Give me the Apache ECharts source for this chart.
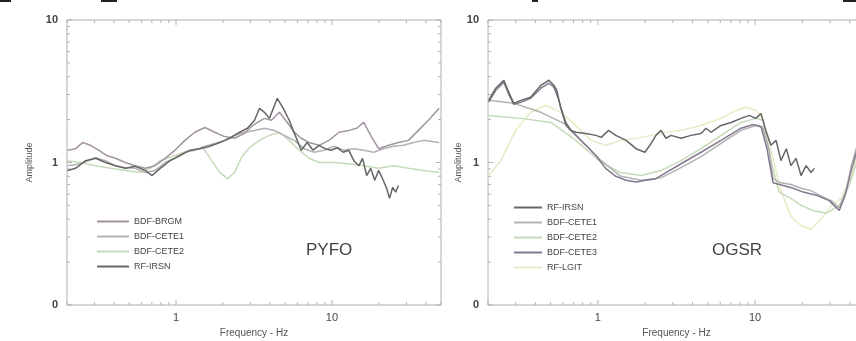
<!DOCTYPE html>
<html>
<head>
<meta charset="utf-8">
<script src="https://cdn.jsdelivr.net/npm/echarts@6/dist/echarts.min.js"></script>
<style>
  html, body { margin: 0; padding: 0; background: #fff; }
  #chart { width: 856px; height: 341px; filter: blur(0.45px); }
</style>
</head>
<body>
<div id="chart"></div>
<script>
// ---- PYFO (left panel) : [frequency Hz, amplitude]
const pyfoIRSN = [[0.202,0.88],[0.227,0.91],[0.263,1.03],[0.305,1.07],[0.353,1.00],[0.409,0.95],[0.473,0.91],[0.548,0.94],[0.635,0.88],[0.703,0.81],[0.791,0.91],[0.916,1.03],[1.06,1.12],[1.23,1.22],[1.42,1.25],[1.65,1.30],[1.91,1.38],[2.21,1.48],[2.56,1.63],[2.87,1.74],[3.19,1.98],[3.43,2.40],[3.69,2.25],[3.97,2.04],[4.46,2.82],[4.87,2.40],[5.32,1.98],[5.81,1.55],[6.35,1.22],[6.93,1.38],[7.57,1.22],[8.26,1.32],[9.02,1.25],[9.86,1.22],[10.8,1.27],[11.8,1.18],[12.8,1.22],[13.8,1.03],[14.9,0.95],[15.7,1.07],[16.7,0.81],[17.7,0.91],[18.8,0.75],[19.9,0.88],[21.1,0.77],[22.4,0.66],[23.4,0.56],[24.5,0.67],[25.6,0.62],[26.7,0.69]];
const pyfoBRGM = [[0.202,1.22],[0.227,1.25],[0.252,1.38],[0.283,1.32],[0.319,1.22],[0.358,1.12],[0.409,1.07],[0.473,1.00],[0.548,0.95],[0.635,0.91],[0.735,0.95],[0.851,1.07],[0.986,1.22],[1.14,1.43],[1.32,1.63],[1.53,1.76],[1.77,1.63],[2.05,1.52],[2.37,1.48],[2.75,1.60],[3.05,1.79],[3.33,1.91],[3.69,2.04],[4.09,1.98],[4.60,2.25],[5.17,1.91],[5.73,1.63],[6.35,1.48],[7.14,1.38],[8.26,1.32],[9.57,1.43],[11.1,1.63],[12.8,1.68],[14.4,1.74],[16.0,1.91],[17.7,1.55],[19.9,1.25],[23.1,1.32],[26.7,1.38],[30.9,1.43],[35.8,1.68],[41.5,1.98],[48.7,2.40]];
const pyfoCETE1 = [[0.202,0.95],[0.245,0.98],[0.305,1.08],[0.353,1.03],[0.409,0.95],[0.473,0.92],[0.548,0.91],[0.635,0.85],[0.735,0.88],[0.851,1.00],[0.986,1.07],[1.14,1.18],[1.32,1.22],[1.53,1.30],[1.77,1.36],[2.05,1.43],[2.37,1.55],[2.75,1.63],[3.19,1.68],[3.69,1.74],[4.27,1.68],[4.94,1.55],[5.73,1.43],[6.63,1.25],[7.68,1.18],[8.89,1.22],[10.3,1.30],[11.9,1.22],[13.8,1.25],[16.0,1.22],[18.5,1.18],[21.4,1.25],[24.8,1.30],[28.8,1.32],[33.3,1.38],[38.5,1.43],[48.7,1.38]];
const pyfoCETE2 = [[0.202,1.03],[0.245,1.00],[0.305,0.95],[0.380,0.91],[0.473,0.88],[0.590,0.85],[0.683,0.91],[0.791,1.03],[0.986,1.12],[1.23,1.22],[1.49,1.27],[1.69,1.03],[1.91,0.85],[2.14,0.77],[2.37,0.85],[2.67,1.12],[2.96,1.27],[3.43,1.43],[3.97,1.55],[4.60,1.63],[5.32,1.43],[6.16,1.22],[7.14,1.07],[8.26,1.00],[10.3,1.00],[12.8,0.98],[16.0,0.95],[19.9,0.91],[24.8,0.95],[30.9,0.91],[38.5,0.88],[48.7,0.85]];

// ---- OGSR (right panel)
const ogsrIRSN = [[0.202,2.73],[0.224,3.32],[0.252,3.78],[0.271,3.11],[0.292,2.60],[0.323,2.73],[0.374,2.87],[0.434,3.48],[0.467,3.66],[0.488,3.78],[0.525,3.48],[0.548,3.21],[0.581,2.40],[0.625,1.91],[0.673,1.68],[0.725,1.63],[0.839,1.60],[0.971,1.55],[1.05,1.50],[1.17,1.68],[1.30,1.55],[1.51,1.43],[1.75,1.25],[1.99,1.18],[2.18,1.36],[2.34,1.55],[2.52,1.68],[2.71,1.48],[2.92,1.55],[3.38,1.48],[3.91,1.55],[4.53,1.60],[4.87,1.74],[5.24,1.63],[6.07,1.82],[7.03,1.91],[8.14,2.04],[9.16,2.14],[10.1,2.04],[10.9,2.21],[11.7,1.68],[12.6,1.32],[13.6,1.43],[14.6,1.03],[15.8,1.25],[16.9,0.95],[18.2,1.07],[19.6,0.81],[21.1,0.95],[22.7,0.85],[23.8,0.91]];
const ogsrCETE1 = [[0.202,2.73],[0.292,2.60],[0.434,2.25],[0.625,1.85],[0.779,1.43],[1.05,1.03],[1.40,0.80],[1.88,0.75],[2.52,0.78],[3.38,0.92],[4.53,1.10],[6.07,1.36],[8.14,1.68],[10.1,1.82],[11.2,1.76],[12.3,1.22],[13.0,0.77],[14.6,0.72],[16.9,0.70],[19.6,0.66],[22.7,0.635],[26.3,0.58],[30.5,0.54],[34.3,0.48],[38.0,0.635],[40.9,0.95],[44.6,1.32],[50,1.9]];
const ogsrCETE2 = [[0.202,2.14],[0.323,2.04],[0.502,1.91],[0.725,1.43],[1.05,1.00],[1.40,0.85],[1.88,0.81],[2.52,0.88],[3.38,1.03],[4.53,1.25],[6.07,1.55],[8.14,1.91],[10.1,2.04],[11.2,1.98],[12.6,1.03],[14.2,0.62],[16.9,0.56],[19.6,0.50],[23.4,0.46],[28.3,0.44],[34.3,0.50],[39.7,0.69],[44.6,1.03],[50,1.5]];
const ogsrCETE3 = [[0.202,2.65],[0.224,3.21],[0.252,3.66],[0.271,3.01],[0.292,2.56],[0.323,2.65],[0.374,2.82],[0.434,3.32],[0.488,3.60],[0.525,3.38],[0.565,2.73],[0.625,1.82],[0.725,1.55],[0.839,1.32],[0.971,1.12],[1.12,0.91],[1.30,0.80],[1.51,0.75],[1.75,0.73],[2.02,0.75],[2.34,0.77],[2.71,0.85],[3.38,0.98],[4.53,1.18],[6.07,1.43],[8.14,1.74],[9.71,1.85],[10.9,1.79],[11.9,1.25],[13.0,0.72],[15.1,0.69],[17.5,0.66],[20.2,0.62],[24.5,0.59],[29.6,0.54],[34.3,0.46],[37.4,0.59],[40.9,0.88],[44.6,1.22],[50,1.8]];
const ogsrLGIT = [[0.202,0.81],[0.241,1.03],[0.300,1.68],[0.374,2.25],[0.467,2.52],[0.581,2.25],[0.725,1.82],[0.903,1.43],[1.12,1.32],[1.40,1.43],[1.75,1.48],[2.18,1.55],[2.71,1.63],[3.38,1.68],[4.53,1.82],[6.07,2.04],[7.57,2.32],[8.76,2.44],[10.1,2.32],[11.2,2.04],[12.6,1.22],[14.6,0.635],[16.9,0.42],[19.6,0.36],[22.7,0.34],[26.3,0.40],[30.5,0.50],[35.3,0.56],[40.9,0.81],[44.6,1.12],[50,1.6]];

const leftNames = ['BDF-BRGM', 'BDF-CETE1', 'BDF-CETE2', 'RF-IRSN'];
const rightNames = ['RF-IRSN', 'BDF-CETE1', 'BDF-CETE2', 'BDF-CETE3', 'RF-LGIT'];

// axis ranges and tick marks
const freqMin = 0.2, freqMax = 50;
const ampMin = 0.1, ampMax = 10;
const freqTicks = [0.2,0.3,0.4,0.5,0.6,0.7,0.8,0.9,1,2,3,4,5,6,7,8,9,10,20,30,40,50];
const ampTicks = [0.1,0.2,0.3,0.4,0.5,0.6,0.7,0.8,0.9,1,2,3,4,5,6,7,8,9,10];

const colors = {
  'RF-IRSN': '#666666',
  'BDF-BRGM': '#a394a3',
  'BDF-CETE1': '#b2b2b2',
  'BDF-CETE2': '#c4dabb',
  'BDF-CETE3': '#85788e',
  'RF-LGIT': '#e6ecc4'
};
const axisColor = '#b0b0b0';
const font = 'Liberation Sans';

const isDecade = v => Math.abs(Math.log10(v) - Math.round(Math.log10(v))) < 1e-6;

function xTickItem(params, api) {
  const v = api.value(0);
  const len = isDecade(v) ? 5 : 3;
  const b = api.coord([v, ampMin]);
  const t = api.coord([v, ampMax]);
  return { type: 'group', children: [
    { type: 'line', shape: { x1: b[0], y1: b[1], x2: b[0], y2: b[1] - len }, style: { stroke: axisColor, lineWidth: 1 } },
    { type: 'line', shape: { x1: t[0], y1: t[1], x2: t[0], y2: t[1] + len }, style: { stroke: axisColor, lineWidth: 1 } }
  ]};
}
function yTickItem(params, api) {
  const v = api.value(1);
  const len = isDecade(v) ? 5 : 3;
  const l = api.coord([freqMin, v]);
  const r = api.coord([freqMax, v]);
  return { type: 'group', children: [
    { type: 'line', shape: { x1: l[0], y1: l[1], x2: l[0] + len, y2: l[1] }, style: { stroke: axisColor, lineWidth: 1 } },
    { type: 'line', shape: { x1: r[0], y1: r[1], x2: r[0] - len, y2: r[1] }, style: { stroke: axisColor, lineWidth: 1 } }
  ]};
}

function xAxisFor(i) {
  return {
    type: 'log', gridIndex: i, min: freqMin, max: freqMax, logBase: 10,
    name: 'Frequency - Hz', nameLocation: 'middle', nameGap: 22,
    nameTextStyle: { fontSize: 10, color: '#555', fontFamily: font },
    axisLine: { show: false }, axisTick: { show: false }, splitLine: { show: false },
    axisLabel: { margin: 7, fontSize: 11, color: '#444', fontFamily: font,
      formatter: v => isDecade(v) ? String(Math.round(v)) : '' }
  };
}
function yAxisFor(i) {
  return {
    type: 'log', gridIndex: i, min: ampMin, max: ampMax, logBase: 10,
    name: 'Amplitude', nameLocation: 'middle', nameRotate: 90, nameGap: i === 0 ? 33 : 21,
    nameTextStyle: { fontSize: 9, color: '#555', fontFamily: font },
    axisLine: { show: false }, axisTick: { show: false }, splitLine: { show: false },
    axisLabel: { margin: 9, fontSize: 11, fontWeight: 'bold', color: '#444', fontFamily: font,
      formatter: v => isDecade(v) ? (v < 1 ? '0' : String(Math.round(v))) : '' }
  };
}

function lineSeries(name, data, i, z) {
  return {
    type: 'line', name, data, xAxisIndex: i, yAxisIndex: i,
    showSymbol: false, symbol: 'none', smooth: false, z: z, silent: true,
    color: colors[name], lineStyle: { width: 1.5, color: colors[name] }
  };
}
function tickSeries(i) {
  return [
    { type: 'custom', xAxisIndex: i, yAxisIndex: i, silent: true, z: 1,
      data: freqTicks.map(v => [v, 1]), encode: { x: 0, y: 1 }, renderItem: xTickItem },
    { type: 'custom', xAxisIndex: i, yAxisIndex: i, silent: true, z: 1,
      data: ampTicks.map(v => [1, v]), encode: { x: 0, y: 1 }, renderItem: yTickItem }
  ];
}

const legendBase = {
  orient: 'vertical', icon: 'rect', itemHeight: 2, itemGap: 4, selectedMode: false,
  textStyle: { fontSize: 9, lineHeight: 11, color: '#444', fontFamily: font }
};

const chart = echarts.init(document.getElementById('chart'), null, { renderer: 'canvas' });
chart.setOption({
  animation: false,
  backgroundColor: '#fff',
  grid: [
    { left: 67, top: 20, width: 374, height: 285, show: true, borderColor: axisColor, borderWidth: 1, containLabel: false, outerBoundsMode: 'none' },
    { left: 488, top: 20, width: 377, height: 285, show: true, borderColor: axisColor, borderWidth: 1, containLabel: false, outerBoundsMode: 'none' }
  ],
  xAxis: [xAxisFor(0), xAxisFor(1)],
  yAxis: [yAxisFor(0), yAxisFor(1)],
  legend: [
    Object.assign({}, legendBase, { data: leftNames, left: 92, top: 211, itemWidth: 32 }),
    Object.assign({}, legendBase, { data: rightNames, left: 509, top: 197, itemWidth: 28 })
  ],
  graphic: [
    { type: 'text', left: 306, top: 242, style: { text: 'PYFO', fontSize: 17, fill: '#444', fontFamily: font } },
    { type: 'text', left: 712, top: 242, style: { text: 'OGSR', fontSize: 17, fill: '#444', fontFamily: font } },
    { type: 'rect', left: 0, top: 0, shape: { width: 11, height: 2 }, style: { fill: '#222' } },
    { type: 'rect', left: 101, top: 0, shape: { width: 16, height: 2 }, style: { fill: '#222' } },
    { type: 'rect', left: 532, top: 0, shape: { width: 6, height: 2 }, style: { fill: '#222' } },
    { type: 'rect', left: 843, top: 0, shape: { width: 13, height: 2 }, style: { fill: '#222' } }
  ],
  series: [
    ...tickSeries(0),
    ...tickSeries(1),
    lineSeries('BDF-CETE2', pyfoCETE2, 0, 2),
    lineSeries('BDF-CETE1', pyfoCETE1, 0, 3),
    lineSeries('BDF-BRGM', pyfoBRGM, 0, 4),
    lineSeries('RF-IRSN', pyfoIRSN, 0, 5),
    lineSeries('RF-LGIT', ogsrLGIT, 1, 2),
    lineSeries('BDF-CETE2', ogsrCETE2, 1, 3),
    lineSeries('BDF-CETE1', ogsrCETE1, 1, 4),
    lineSeries('BDF-CETE3', ogsrCETE3, 1, 5),
    lineSeries('RF-IRSN', ogsrIRSN, 1, 6)
  ]
});
</script>
</body>
</html>
